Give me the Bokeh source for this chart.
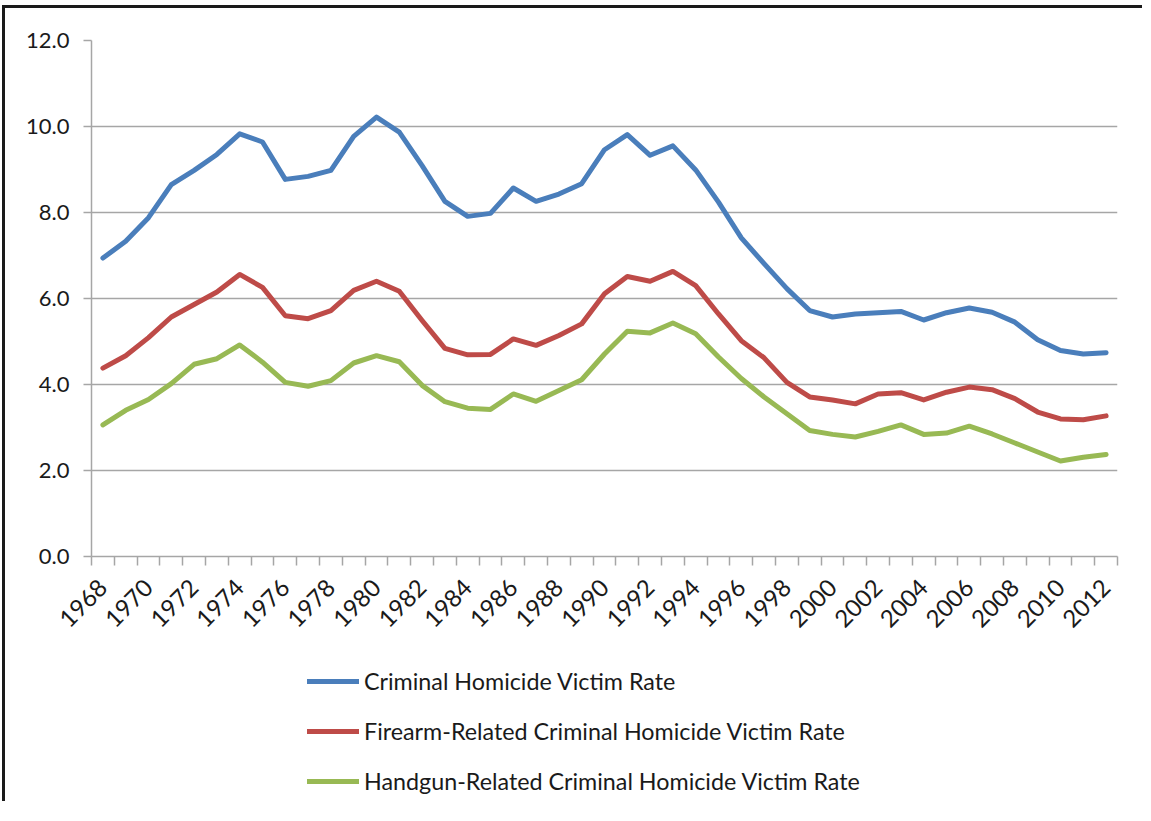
from bokeh.plotting import figure
from bokeh.models import (Range1d, FixedTicker, PrintfTickFormatter, Legend, LegendItem)
from bokeh.layouts import column
from bokeh.embed import file_html
from bokeh.resources import INLINE
import math

years = list(range(1968, 2013))
label_years = list(range(1968, 2013, 2))

criminal = [6.94, 7.33, 7.88, 8.65, 8.98, 9.35, 9.83, 9.64, 8.77, 8.84, 8.98, 9.77, 10.22, 9.87, 9.09,
            8.26, 7.91, 7.98, 8.57, 8.26, 8.43, 8.67, 9.46, 9.81, 9.33, 9.55, 8.99, 8.24, 7.41, 6.81,
            6.23, 5.72, 5.57, 5.64, 5.67, 5.70, 5.50, 5.67, 5.78, 5.68, 5.45, 5.04, 4.79, 4.71, 4.74]
firearm = [4.38, 4.67, 5.09, 5.57, 5.86, 6.15, 6.56, 6.26, 5.60, 5.53, 5.72, 6.19, 6.40, 6.17, 5.49,
           4.84, 4.69, 4.70, 5.06, 4.91, 5.14, 5.41, 6.11, 6.51, 6.40, 6.63, 6.30, 5.64, 5.02, 4.62,
           4.05, 3.71, 3.64, 3.55, 3.78, 3.81, 3.64, 3.82, 3.94, 3.88, 3.67, 3.36, 3.20, 3.18, 3.27]
handgun = [3.06, 3.40, 3.65, 4.02, 4.47, 4.60, 4.92, 4.52, 4.05, 3.96, 4.09, 4.50, 4.67, 4.53, 3.98,
           3.60, 3.45, 3.42, 3.78, 3.61, 3.86, 4.11, 4.71, 5.24, 5.20, 5.43, 5.18, 4.64, 4.14, 3.71,
           3.32, 2.93, 2.84, 2.78, 2.91, 3.06, 2.84, 2.87, 3.03, 2.85, 2.64, 2.43, 2.22, 2.31, 2.37]

series_names = ["Criminal Homicide Victim Rate",
                "Firearm-Related Criminal Homicide Victim Rate",
                "Handgun-Related Criminal Homicide Victim Rate"]
series_colors = ["#4a7ebb", "#be4b48", "#98b954"]
y_ticks = [0, 2, 4, 6, 8, 10, 12]

FONT = "Lato"
TXT = "#1a1a1a"
GRID = "#a6a6a6"
W = 1137

p = figure(width=W, height=642, output_backend="svg", toolbar_location=None,
           x_range=Range1d(years[0] - 0.5, years[-1] + 0.5), y_range=Range1d(0, 12),
           min_border_left=86, min_border_right=25, min_border_top=32, min_border_bottom=94)
p.outline_line_color = None
p.background_fill_color = "white"
p.border_fill_color = "white"

# y axis
p.yaxis.ticker = FixedTicker(ticks=y_ticks)
p.yaxis.formatter = PrintfTickFormatter(format="%.1f")
p.yaxis.axis_line_color = GRID
p.yaxis.axis_line_width = 1.5
p.yaxis.major_tick_line_color = GRID
p.yaxis.major_tick_line_width = 1.5
p.yaxis.major_tick_out = 8
p.yaxis.major_tick_in = 0
p.yaxis.minor_tick_line_color = None
p.yaxis.major_label_standoff = 14
p.yaxis.major_label_text_font = FONT
p.yaxis.major_label_text_font_size = "22px"
p.yaxis.major_label_text_color = TXT

# x axis: labels at even years, ticks between categories
boundaries = [y - 0.5 for y in years] + [years[-1] + 0.5]
p.xaxis.ticker = FixedTicker(ticks=label_years, minor_ticks=boundaries)
p.xaxis.axis_line_color = GRID
p.xaxis.axis_line_width = 1.5
p.xaxis.major_tick_line_color = None
p.xaxis.minor_tick_line_color = GRID
p.xaxis.minor_tick_line_width = 1.5
p.xaxis.minor_tick_out = 9
p.xaxis.minor_tick_in = 0
p.xaxis.major_label_orientation = math.pi / 4
p.xaxis.major_label_standoff = 18
p.xaxis.major_label_text_font = FONT
p.xaxis.major_label_text_font_size = "24px"
p.xaxis.major_label_text_color = TXT

p.xgrid.grid_line_color = None
p.ygrid.ticker = FixedTicker(ticks=y_ticks)
p.ygrid.grid_line_color = GRID
p.ygrid.grid_line_width = 1.5

for vals, col in zip([criminal, firearm, handgun], series_colors):
    p.line(years, vals, line_color=col, line_width=5, line_join="round", line_cap="round")

# legend panel below the chart (its frame is aligned with the chart's frame)
lp = figure(width=W, height=151, output_backend="svg", toolbar_location=None,
            x_range=Range1d(0, 1), y_range=Range1d(0, 1),
            min_border_left=86, min_border_right=25, min_border_top=0, min_border_bottom=0)
lp.axis.visible = False
lp.grid.visible = False
lp.outline_line_color = None
lp.border_fill_color = "white"

items = []
for name, col in zip(series_names, series_colors):
    # proxy renderer placed outside the visible range; only its legend glyph shows
    r = lp.line([5, 6], [5, 6], line_color=col, line_width=5, line_cap="round")
    items.append(LegendItem(label=name, renderers=[r]))

legend = Legend(items=items, location=(216, 5), orientation="vertical",
                glyph_width=52, glyph_height=30, label_height=30, label_standoff=5, spacing=20,
                padding=0, margin=0, border_line_color=None, background_fill_alpha=0,
                label_text_font=FONT, label_text_font_size="23.3px", label_text_color=TXT)
lp.add_layout(legend)

layout = column(p, lp, spacing=0)
layout.styles = {"margin-top": "5px", "margin-left": "2px",
                 "border-top": "3px solid #1a1a1a", "border-left": "3px solid #1a1a1a"}

open("out.html", "w").write(file_html(layout, INLINE))
